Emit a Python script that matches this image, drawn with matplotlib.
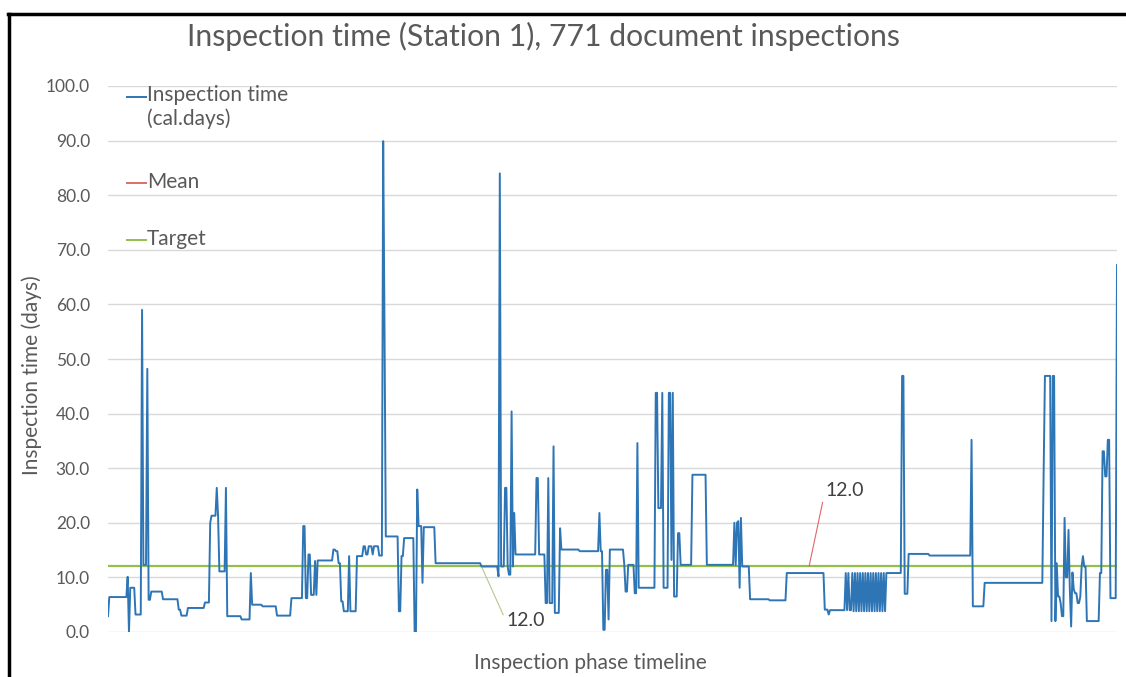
import numpy as np
import matplotlib
matplotlib.use("Agg")
import matplotlib.pyplot as plt
from matplotlib.lines import Line2D

plt.rcParams['font.family'] = ['Lato', 'DejaVu Sans']

# ---- data ----
n_inspections = 771

# index where each level of the inspection-time series starts, and its value (cal. days)
level_start = [
    0, 1, 15, 16, 17, 21, 26, 27, 30, 31, 33, 42, 54, 56, 61, 74, 78, 79, 83, 84,
    85, 90, 91, 102, 109, 110, 118, 129, 140, 149, 151, 153, 155, 158, 159, 160,
    172, 174, 176, 178, 180, 184, 185, 190, 195, 197, 199, 202, 203, 207, 210,
    211, 212, 222, 224, 226, 234, 236, 237, 240, 241, 250, 285, 298, 299, 300,
    303, 305, 306, 308, 309, 310, 311, 327, 329, 334, 336, 337, 340, 341, 345,
    346, 360, 375, 376, 378, 380, 382, 383, 394, 395, 397, 402, 404, 405, 418,
    420, 423, 424, 428, 430, 431, 432, 435, 437, 446, 457, 478, 479, 480, 481,
    482, 483, 484, 490, 505, 518, 547, 550, 551, 563, 564, 565, 566,
    568, 569, 570, 571, 572, 573, 574, 575, 576, 577, 578, 579, 580, 581, 582,
    583, 584, 585, 586, 587, 588, 589, 590, 591, 592, 593,
    594, 606, 608, 611, 627, 659, 660, 669, 714, 715, 720, 721, 723, 724, 725,
    727, 728, 730, 731, 733, 734, 735, 736, 737, 738, 740, 742, 743, 744, 745,
    747, 757, 759, 761, 763, 765, 770,
]
level_value = [
    2.9, 6.4, 10.1, 0.0, 8.1, 3.2, 59.0, 12.3, 48.2, 5.9, 7.4, 6.0, 4.1, 3.0, 4.4,
    5.4, 20.0, 21.3, 26.4, 21.2, 11.1, 26.4, 2.9, 2.3, 10.8, 5.0, 4.7, 3.0, 6.2,
    19.4, 6.2, 14.2, 6.8, 13.0, 6.8, 13.1, 15.1, 14.8, 12.6, 5.6, 3.8, 13.9, 3.8,
    13.9, 15.7, 14.2, 15.7, 14.2, 15.7, 14.0, 89.9, 55.9, 17.5, 3.8, 13.9, 17.2,
    0.0, 26.1, 19.4, 9.0, 19.2, 12.6, 12.0, 10.2, 84.0, 12.0, 26.4, 12.0, 10.5,
    40.4, 12.0, 21.8, 14.2, 28.2, 14.2, 5.3, 28.2, 5.3, 34.0, 3.5, 19.0, 15.1,
    14.8, 21.8, 14.8, 0.4, 11.4, 2.3, 15.1, 12.3, 7.4, 12.3, 7.1, 34.6, 8.1,
    43.8, 22.7, 43.8, 8.1, 43.8, 13.2, 43.8, 6.5, 18.1, 12.3, 28.8, 12.3, 20.0,
    12.2, 20.0, 20.3, 8.1, 20.9, 12.0, 6.0, 5.8, 10.8, 4.1, 3.2, 4.0, 10.8, 4.0,
    10.8, 4.0,
    10.8, 3.8, 10.8, 3.8, 10.8, 3.8, 10.8, 3.8, 10.8, 3.8, 10.8, 3.8, 10.8, 3.8,
    10.8, 3.8, 10.8, 3.8, 10.8, 3.8, 10.8, 3.8, 10.8, 3.8, 10.8, 3.8,
    10.8, 46.9, 7.0, 14.3, 14.0, 35.2, 4.7, 9.0, 28.8, 46.9, 2.0, 46.9, 2.0, 12.6,
    6.5, 5.3, 2.9, 20.9, 10.0, 18.7, 7.8, 1.0, 10.9, 7.8, 7.1, 5.3, 6.5, 12.0,
    13.9, 12.0, 2.0, 10.8, 33.1, 28.5, 35.2, 6.2, 67.2,
]

mean_value = 12.0
target_value = 12.0

title = "Inspection time (Station 1), 771 document inspections"
series_labels = ["Inspection time\n(cal.days)", "Mean", "Target"]
y_ticks = np.arange(0, 101, 10)

# expand levels into one value per inspection
lengths = np.diff(level_start + [n_inspections])
inspection_time = np.repeat(level_value, lengths)
x = np.arange(n_inspections)

# ---- figure ----
W, H = 1126, 677
fig = plt.figure(figsize=(W / 100, H / 100), dpi=100)


def px(xp, yp):
    return xp / W, 1 - yp / H


ax = fig.add_axes([108 / W, 1 - 632 / H, (1117 - 108) / W, (632 - 86) / H])

blue = "#2E75B6"
red = "#D9706C"
green = "#92C04A"
grey_txt = "#595959"

ax.plot(x, np.full(n_inspections, mean_value), color=red, lw=1.3, zorder=2)
ax.plot(x, np.full(n_inspections, target_value), color=green, lw=1.6, zorder=3)
ax.plot(x, inspection_time, color=blue, lw=1.4, zorder=4)

ax.set_xlim(0, n_inspections - 1)
ax.set_ylim(0, 100)
ax.set_yticks(y_ticks)
ax.set_yticklabels([f"{v:.1f}" for v in y_ticks], color=grey_txt, fontsize=12.5)
ax.set_xticks([])
ax.tick_params(axis='y', length=0, pad=13)
ax.grid(axis='y', color="#d9d9d9", lw=1)
ax.set_axisbelow(True)
for s in ax.spines.values():
    s.set_visible(False)

# axis titles
fig.text(*px(32, 375), "Inspection time (days)", rotation=90, ha='center', va='center',
         fontsize=15, color=grey_txt)
fig.text(*px(590, 663), "Inspection phase timeline", ha='center', va='center',
         fontsize=15, color=grey_txt)

fig.text(*px(543, 36), title, ha='center', va='center', fontsize=21.7, color=grey_txt)

# legend, drawn by hand to match the layout
legend_rows = [(blue, 97), (red, 183), (green, 240)]
for col, yp in legend_rows:
    fig.add_artist(Line2D([127 / W, 146 / W], [1 - yp / H] * 2, color=col, lw=1.4))
fig.text(*px(147, 85), series_labels[0], ha='left', va='top', fontsize=15,
         color=grey_txt, linespacing=1.2)
fig.text(*px(147, 182), series_labels[1], ha='left', va='center', fontsize=15, color=grey_txt)
fig.text(*px(147, 239), series_labels[2], ha='left', va='center', fontsize=15, color=grey_txt)

# data labels for target and mean
ax.annotate(f"{target_value:.1f}", xy=(285, target_value), xytext=(px(506, 621)),
            textcoords='figure fraction', ha='left', va='center', fontsize=14,
            color="#404040",
            arrowprops=dict(arrowstyle='-', color="#b5c98a", lw=0.8,
                            shrinkA=0, shrinkB=0, relpos=(0, 0.5)))
ax.annotate(f"{mean_value:.1f}", xy=(535, mean_value), xytext=(px(825, 491)),
            textcoords='figure fraction', ha='left', va='center', fontsize=14,
            color="#404040",
            arrowprops=dict(arrowstyle='-', color="#e06666", lw=0.8,
                            shrinkA=0, shrinkB=0, relpos=(0, 0.5)))

# outer frame
fig.add_artist(Line2D([8 / W, 1], [1 - 14 / H] * 2, color='black', lw=2.5))
fig.add_artist(Line2D([9 / W] * 2, [0, 1 - 14 / H], color='black', lw=2.5))

fig.savefig("out.png", dpi=100, facecolor='white')
